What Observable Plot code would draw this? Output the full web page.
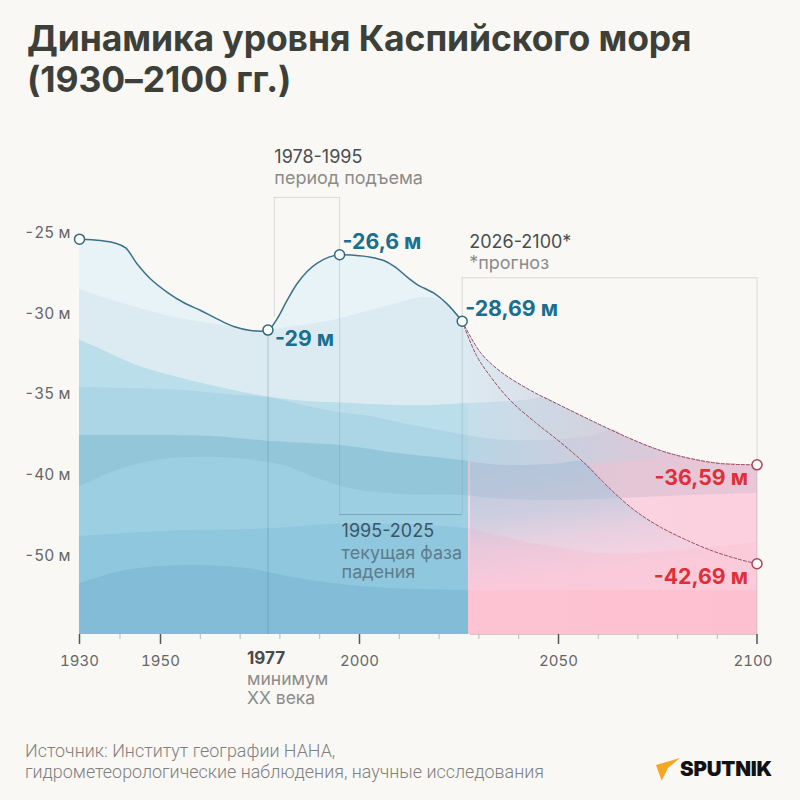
<!DOCTYPE html>
<html lang="ru">
<head>
<meta charset="utf-8">
<script src="https://cdn.jsdelivr.net/npm/d3@7"></script>
<script src="https://cdn.jsdelivr.net/npm/@observablehq/plot@0.6"></script>
<style>
html,body{margin:0;padding:0;background:#f9f8f5;width:800px;height:800px;overflow:hidden}
#title{height:120px;box-sizing:border-box;padding:18px 0 0 27px;font:700 35.5px/41px Inter,sans-serif;color:#3d4039;letter-spacing:-.1px;white-space:nowrap}
#foot{position:relative;height:80px;font:300 17.9px/21px Roboto,sans-serif;color:#80807e}
#src{position:absolute;left:25px;top:20px;white-space:nowrap}
#logo{position:absolute;left:650px;top:30px}
</style>
</head>
<body>
<div id="title">Динамика уровня Каспийского моря<br>(1930–2100 гг.)</div>
<div id="chart"></div>
<div id="foot">
<div id="src">Источник: Институт географии НАНА,<br>гидрометеорологические наблюдения, научные исследования</div>
<svg id="logo" width="130" height="36" viewBox="0 0 130 36"><polygon points="6,15 30,8 18,18 11.7,30.7" fill="#f5a623"/><text x="30" y="26" font-family="Inter,sans-serif" font-weight="900" font-size="20.5" letter-spacing="-.2" fill="#111">SPUTNIK</text></svg>
</div>
<script>
// Observed level
const lineYears = [1930,1935.2,1938.9,1941.4,1944.2,1947.5,1951.7,1955.9,1960.1,1964.2,1968.4,1972.6,1977,1979.3,1981.8,1984.3,1986.9,1989.4,1992.3,1995,1998.6,2002.8,2006.1,2009,2012,2014.5,2018.7,2022,2025.8];
const lineLevels = [-25.35,-25.43,-25.6,-25.89,-26.88,-27.81,-28.65,-29.3,-29.78,-30.3,-30.78,-31.02,-31,-30.3,-29.16,-28.12,-27.34,-26.84,-26.47,-26.32,-26.35,-26.47,-26.68,-27.09,-27.71,-28.17,-28.71,-29.37,-30.45];
// Forecast, upper and lower scenario
const upperYears = [2025.8,2030.4,2035.4,2043,2050.5,2059.8,2067.4,2075.7,2083.2,2090.8,2100];
const upperLevels = [-30.45,-32.39,-33.57,-34.75,-35.68,-36.8,-37.67,-38.48,-38.98,-39.29,-39.37];
const lowerYears = [2025.8,2029.4,2032.9,2037.9,2044.2,2050.5,2056.3,2061.3,2065.6,2069.9,2075.7,2082.5,2089,2095,2100];
const lowerLevels = [-30.45,-32.58,-33.88,-35.37,-36.74,-37.97,-39.21,-40.89,-42.9,-44.63,-46.44,-48.09,-49.41,-50.35,-50.96];
// Water depth contours
const band2Years = [1930,1935.9,1944.2,1952.5,1960.8,1969.3,1972.6,1977,1980.2,1985.9,1994.4,2001,2009.5,2016.1,2020.4];
const band2Levels = [-28.48,-28.98,-29.6,-30.16,-30.53,-30.87,-31.06,-31.06,-30.9,-30.71,-30.34,-29.91,-29.35,-28.98,-29.15];
const band3Years = [1930,1935.9,1944.2,1952.5,1960.8,1969.3,1977.6,1985.9,1994.4,2002.8,2009.5,2017.8,2026.1,2034.6,2043,2046.2];
const band3Levels = [-31.6,-32.27,-33.2,-33.82,-34.34,-34.8,-35.17,-35.42,-35.52,-35.62,-35.68,-35.68,-35.58,-35.48,-35.33,-35.17];
const band4Years = [1930,1944.2,1952.5,1960.8,1969.3,1977.6,1985.9,1994.4,2002.8,2009.5,2017.8,2025.4,2034.6,2045.5,2053.8,2059.8,2063.6];
const band4Levels = [-34.55,-34.65,-34.71,-34.86,-35.06,-35.21,-35.68,-36.1,-36.37,-36.72,-37.13,-37.48,-37.81,-37.86,-37.73,-37.5,-37.2];
const band5Years = [1930,1950,1963.3,1976.9,1995.2,2010.3,2025.8,2033.7,2042.1,2050.5,2058.8,2067.3,2075.7,2079];
const band5Levels = [-37.55,-37.55,-37.61,-37.9,-38.17,-38.68,-39.1,-39.37,-39.41,-39.3,-39.29,-39.16,-38.95,-38.75];
const band6Years = [1930,1939.3,1950,1960.1,1970.1,1980.9,1989.4,1997.7,2010.3,2025.8,2033.7,2050.5,2065.6,2083.2,2100];
const band6Levels = [-41.51,-39.72,-39.06,-38.9,-39,-39.41,-40.43,-41.7,-42.41,-42.53,-42.9,-43.15,-42.9,-42.53,-42.28];
const band7Years = [1930,1951.7,1976.9,1993.5,2010.3,2027.1,2036.2,2046.2,2063.1,2080,2100];
const band7Levels = [-47.59,-46.94,-46.64,-46.11,-46.11,-46.64,-47.68,-48.7,-49.73,-49.32,-48.33];
const band8Years = [1930,1939.3,1947.5,1960.1,1972.6,1985.1,1997.7,2010.3,2027.1,2060,2100];
const band8Levels = [-53.44,-52,-51.38,-51.17,-51.58,-52.82,-53.65,-54.05,-54.26,-54.26,-54.3];
// Axis and annotations
const majorTicks = [1930,1950,2000,2050];
const lastTick = [2100];
const minorTicks = [1940,1960,1970,1980,1990,2010,2020,2030,2040,2060,2070,2080,2090];
const levelTicks = [-25,-30,-35,-40,-50];
const yBottom = -59.7;
const yearMin = 1977, periodStart = 1978.6, periodPeak = 1995, forecastStart = 2025.8, forecastEnd = 2100;
const bracketTop1 = -22.76, bracketTop2 = -27.75, bracketBottom = -44.88;

const zip = (xs, ys) => xs.map((x, i) => ({x, y: ys[i]}));
const line = zip(lineYears, lineLevels);
const upper = zip(upperYears, upperLevels);
const lower = zip(lowerYears, lowerLevels);
const envelope = line.concat(upper.slice(1));
const joinEnv = (xs, ys) => { const b = zip(xs, ys); return b.concat(envelope.filter(d => d.x > b[b.length - 1].x + 0.5)); };
const bands = [
  {id:"b1", data: envelope, c:["#e7f3f7","#e7f3f7","#e0e2ea"]},
  {id:"b2", data: joinEnv(band2Years, band2Levels), c:["#dcebf2","#dce9f1","#d5c0d0"]},
  {id:"b3", data: joinEnv(band3Years, band3Levels), c:["#bbdeeb","#c5dfeb","#e7c2cf"]},
  {id:"b4", data: joinEnv(band4Years, band4Levels), c:["#acd5e5","#b7d5e4","#efc2d3"]},
  {id:"b5", data: joinEnv(band5Years, band5Levels), c:["#94c6da","#dcc6d6","#eac6d6"]},
  {id:"b6", data: zip(band6Years, band6Levels), c:["#9dcfe2","#f6d6e3","#fdd0df"]},
  {id:"b7", data: zip(band7Years, band7Levels), c:["#8fc7de","#fac9da","#fccbda"]},
  {id:"b8", data: zip(band8Years, band8Levels), c:["#82bcd6","#fdc3d3","#fdc0d1"]}
];
// Blue veil under the lower scenario: follows band 5, then the lower curve
const veil = zip(band5Years, band5Levels).filter(d => d.x > 2027 && d.x < 2056)
  .concat(lower.filter(d => d.x >= 2056));
veil.unshift({x: 2027.9, y: -39.2});

const defs = () => {
  const d = d3.create("svg:defs");
  for (const b of bands) {
    const g = d.append("linearGradient").attr("id", b.id).attr("gradientUnits", "userSpaceOnUse")
      .attr("x1", 79).attr("x2", 756.5).attr("y1", 0).attr("y2", 0);
    const split = (468.5 - 79) / (756.5 - 79);
    [[0, b.c[0]], [split, b.c[0]], [split, b.c[1]], [1, b.c[2]]].forEach(([o, c]) =>
      g.append("stop").attr("offset", o).attr("stop-color", c));
  }
  const v = d.append("linearGradient").attr("id", "veil").attr("gradientUnits", "userSpaceOnUse")
    .attr("x1", 469).attr("y1", 341).attr("x2", 484.9).attr("y2", 468);
  [[0, .7], [.457, .45], [.69, .18], [1, 0]].forEach(([o, a]) =>
    v.append("stop").attr("offset", o).attr("stop-color", "#9cc4dc").attr("stop-opacity", a));
  return d.node();
};

const ruleC = "#6f8794", ruleO = .26, tealT = "#1b6f8e", redT = "#dd3039", greyD = "#4a4d4d", greyL = "#8b8c8a";
const t = (text, x, y, o) => Plot.text([text], {x: () => x, y: () => y, text: d => d, textAnchor: "start", fontSize: 18, fill: greyL, ...o});
const curve = "catmull-rom";

const plot = Plot.plot({
  width: 800, height: 600,
  marginLeft: 79, marginRight: 43.5, marginTop: 0, marginBottom: 86,
  style: {background: "transparent", fontFamily: "Inter, sans-serif", overflow: "visible"},
  x: {type: "linear", domain: [1930,1950,2000,2050,2100], range: [79,160,359,558,756.5], axis: null, label: null},
  y: {type: "linear", domain: [-25,-40,-50,yBottom], range: [113,354.5,435.5,514], axis: null, label: null},
  marks: [
    defs,
    ...bands.map(b => Plot.areaY(b.data, {x: "x", y1: "y", y2: yBottom, fill: `url(#${b.id})`, curve})),
    Plot.areaY(veil, {x: "x", y1: "y", y2: yBottom, fill: "url(#veil)", curve}),
    // brackets
    Plot.ruleY([bracketTop1], {x1: periodStart, x2: periodPeak, stroke: ruleC, strokeOpacity: ruleO}),
    Plot.ruleY([bracketTop2], {x1: forecastStart, x2: forecastEnd, stroke: ruleC, strokeOpacity: ruleO}),
    Plot.ruleY([bracketBottom], {x1: periodPeak, x2: forecastStart, stroke: ruleC, strokeOpacity: .6}),
    Plot.ruleX([periodStart], {y1: bracketTop1, y2: -30.2, stroke: ruleC, strokeOpacity: ruleO}),
    Plot.ruleX([periodPeak], {y1: bracketTop1, y2: bracketBottom, stroke: ruleC, strokeOpacity: ruleO}),
    Plot.ruleX([forecastStart], {y1: bracketTop2, y2: bracketBottom, stroke: ruleC, strokeOpacity: ruleO}),
    Plot.ruleX([forecastEnd], {y1: bracketTop2, y2: yBottom, stroke: ruleC, strokeOpacity: ruleO}),
    Plot.ruleX([yearMin], {y1: -31, y2: yBottom, stroke: "#4d7d94", strokeOpacity: .35}),
    // curves
    Plot.line(upper, {x: "x", y: "y", stroke: "#9c4d5e", strokeWidth: 1, strokeDasharray: "3,2", curve}),
    Plot.line(lower, {x: "x", y: "y", stroke: "#9c4d5e", strokeWidth: 1, strokeDasharray: "3,2", curve}),
    Plot.line(line, {x: "x", y: "y", stroke: "#3c7186", strokeWidth: 1.5, curve}),
    // axes
    Plot.ruleY([yBottom], {x1: 2027.9, x2: 2100, stroke: "#cfc9cb"}),
    Plot.axisX({ticks: minorTicks, tickSize: 5, tickFormat: () => "", stroke: "#b9b9b9", anchor: "bottom", label: null}),
    Plot.axisX({ticks: majorTicks, tickSize: 10, tickPadding: 11, fontSize: 15, fill: "#666", stroke: "#555", strokeWidth: 1.5, anchor: "bottom", tickFormat: d => String(d), label: null}),
    Plot.axisX({ticks: lastTick, tickSize: 10, tickFormat: () => "", stroke: "#555", strokeWidth: 1.5, anchor: "bottom", label: null}),
    Plot.axisX({ticks: lastTick, tickSize: 0, tickPadding: 21, dx: -4, fontSize: 15, fill: "#666", anchor: "bottom", tickFormat: d => String(d), label: null}),
    Plot.axisY({ticks: levelTicks, tickSize: 0, tickPadding: 9, fontSize: 15.5, fill: "#666", anchor: "left", tickFormat: d => `${d} м`, label: null}),
    // points
    Plot.dot([line[0], line[12], line[19], line[28]], {x: "x", y: "y", r: 5, fill: "#fbfbf8", stroke: "#2f6a7c", strokeWidth: 1.5}),
    Plot.dot([upper[upper.length - 1], lower[lower.length - 1]], {x: "x", y: "y", r: 5, fill: "#fbfbf8", stroke: "#a8475a", strokeWidth: 1.5}),
    // value labels
    t("-26,6 м", periodPeak, -26.32, {dx: 3, dy: -13, fill: tealT, fontWeight: 700, fontSize: 21.3}),
    t("-29 м", yearMin, -31, {dx: 7, dy: 9, fill: tealT, fontWeight: 700, fontSize: 21.3}),
    t("-28,69 м", forecastStart, -30.45, {dx: 3, dy: -12, fill: tealT, fontWeight: 700, fontSize: 21.3}),
    t("-36,59 м", forecastEnd, -39.37, {dx: -9, dy: 13, textAnchor: "end", fill: redT, fontWeight: 700, fontSize: 21.3}),
    t("-42,69 м", forecastEnd, -50.96, {dx: -9, dy: 13, textAnchor: "end", fill: redT, fontWeight: 700, fontSize: 21.3}),
    // notes
    t("1978-1995", periodStart, bracketTop1, {dy: -40, fill: greyD}),
    t("период подъема", periodStart, bracketTop1, {dy: -19}),
    t("2026-2100*", forecastStart, bracketTop2, {dx: 7, dy: -36, fill: greyD}),
    t("*прогноз", forecastStart, bracketTop2, {dx: 7, dy: -15}),
    t("1995-2025", periodPeak, bracketBottom, {dx: 2, dy: 17, fill: "#3c5566"}),
    t("текущая фаза", periodPeak, bracketBottom, {dx: 2, dy: 39, fill: "#5e7c8c"}),
    t("падения", periodPeak, bracketBottom, {dx: 2, dy: 58, fill: "#5e7c8c"}),
    t("1977", yearMin, yBottom, {dx: -21, dy: 24, fontWeight: 700, fontSize: 17, fill: "#4a4a4a"}),
    t("минимум", yearMin, yBottom, {dx: -21, dy: 45, fontSize: 17.5}),
    t("ХХ века", yearMin, yBottom, {dx: -21, dy: 64, fontSize: 17.5})
  ]
});
document.getElementById("chart").append(plot);
</script>
</body>
</html>
